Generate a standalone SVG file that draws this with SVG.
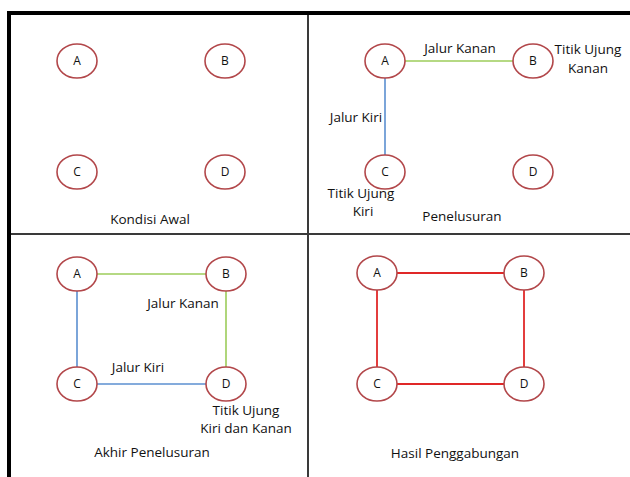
<svg xmlns="http://www.w3.org/2000/svg" width="630" height="477" viewBox="0 0 630 477">
<style>
.n ellipse{fill:#fff;stroke:#b2474a;stroke-width:1.6}
.n text,.t{font-family:"Open Sans","Liberation Sans",sans-serif;font-size:13.5px;fill:#111;text-anchor:middle}
.n text{font-size:12px}
.g{stroke:#9ccc5a;stroke-width:1.6}
.b{stroke:#5b8fd0;stroke-width:1.6}
.r{stroke:#e02828;stroke-width:1.8}
</style>
<rect width="630" height="477" fill="#fff"/>
<g id="frame" fill="none">
<line x1="7" y1="13" x2="630" y2="13" stroke="#000" stroke-width="4"/>
<line x1="9" y1="11" x2="9" y2="477" stroke="#000" stroke-width="4"/>
<line x1="11" y1="234" x2="630" y2="234" stroke="#3a3a3a" stroke-width="2"/>
<line x1="308" y1="15" x2="308" y2="477" stroke="#3a3a3a" stroke-width="2"/>
</g>
<g id="connectors">
<line class="g" x1="405" y1="61" x2="513" y2="61"/>
<line class="b" x1="385" y1="78" x2="385" y2="155"/>
<line class="g" x1="97" y1="274" x2="206" y2="274"/>
<line class="g" x1="226" y1="291" x2="226" y2="367"/>
<line class="b" x1="77" y1="291" x2="77" y2="367"/>
<line class="b" x1="97" y1="384" x2="206" y2="384"/>
<line class="r" x1="397" y1="273" x2="504" y2="273"/>
<line class="r" x1="524" y1="290" x2="524" y2="367"/>
<line class="r" x1="377" y1="290" x2="377" y2="367"/>
<line class="r" x1="397" y1="384" x2="504" y2="384"/>
</g>
<g id="p1A" class="n"><ellipse cx="77" cy="61" rx="20" ry="17"/><text x="77" y="65">A</text></g>
<g id="p1B" class="n"><ellipse cx="225" cy="61" rx="20" ry="17"/><text x="225" y="65">B</text></g>
<g id="p1C" class="n"><ellipse cx="77" cy="172" rx="20" ry="17"/><text x="77" y="176">C</text></g>
<g id="p1D" class="n"><ellipse cx="225" cy="172" rx="20" ry="17"/><text x="225" y="176">D</text></g>
<g id="p2A" class="n"><ellipse cx="385" cy="61" rx="20" ry="17"/><text x="385" y="65">A</text></g>
<g id="p2B" class="n"><ellipse cx="533" cy="61" rx="20" ry="17"/><text x="533" y="65">B</text></g>
<g id="p2C" class="n"><ellipse cx="385" cy="172" rx="20" ry="17"/><text x="385" y="176">C</text></g>
<g id="p2D" class="n"><ellipse cx="533" cy="172" rx="20" ry="17"/><text x="533" y="176">D</text></g>
<g id="p3A" class="n"><ellipse cx="77" cy="274" rx="20" ry="17"/><text x="77" y="278">A</text></g>
<g id="p3B" class="n"><ellipse cx="226" cy="274" rx="20" ry="17"/><text x="226" y="278">B</text></g>
<g id="p3C" class="n"><ellipse cx="77" cy="384" rx="20" ry="17"/><text x="77" y="388">C</text></g>
<g id="p3D" class="n"><ellipse cx="226" cy="384" rx="20" ry="17"/><text x="226" y="388">D</text></g>
<g id="p4A" class="n"><ellipse cx="377" cy="273" rx="20" ry="17"/><text x="377" y="277">A</text></g>
<g id="p4B" class="n"><ellipse cx="524" cy="273" rx="20" ry="17"/><text x="524" y="277">B</text></g>
<g id="p4C" class="n"><ellipse cx="377" cy="384" rx="20" ry="17"/><text x="377" y="388">C</text></g>
<g id="p4D" class="n"><ellipse cx="524" cy="384" rx="20" ry="17"/><text x="524" y="388">D</text></g>
<g id="labels">
<text class="t" x="150" y="224">Kondisi Awal</text>
<text class="t" x="460" y="53">Jalur Kanan</text>
<text class="t" x="588" y="54">Titik Ujung</text>
<text class="t" x="588" y="73">Kanan</text>
<text class="t" x="356" y="122">Jalur Kiri</text>
<text class="t" x="361" y="198">Titik Ujung</text>
<text class="t" x="363" y="216">Kiri</text>
<text class="t" x="462" y="221">Penelusuran</text>
<text class="t" x="183" y="308">Jalur Kanan</text>
<text class="t" x="138" y="372">Jalur Kiri</text>
<text class="t" x="246" y="415">Titik Ujung</text>
<text class="t" x="246" y="433">Kiri dan Kanan</text>
<text class="t" x="152" y="457">Akhir Penelusuran</text>
<text class="t" x="455" y="458">Hasil Penggabungan</text>
</g>
</svg>
